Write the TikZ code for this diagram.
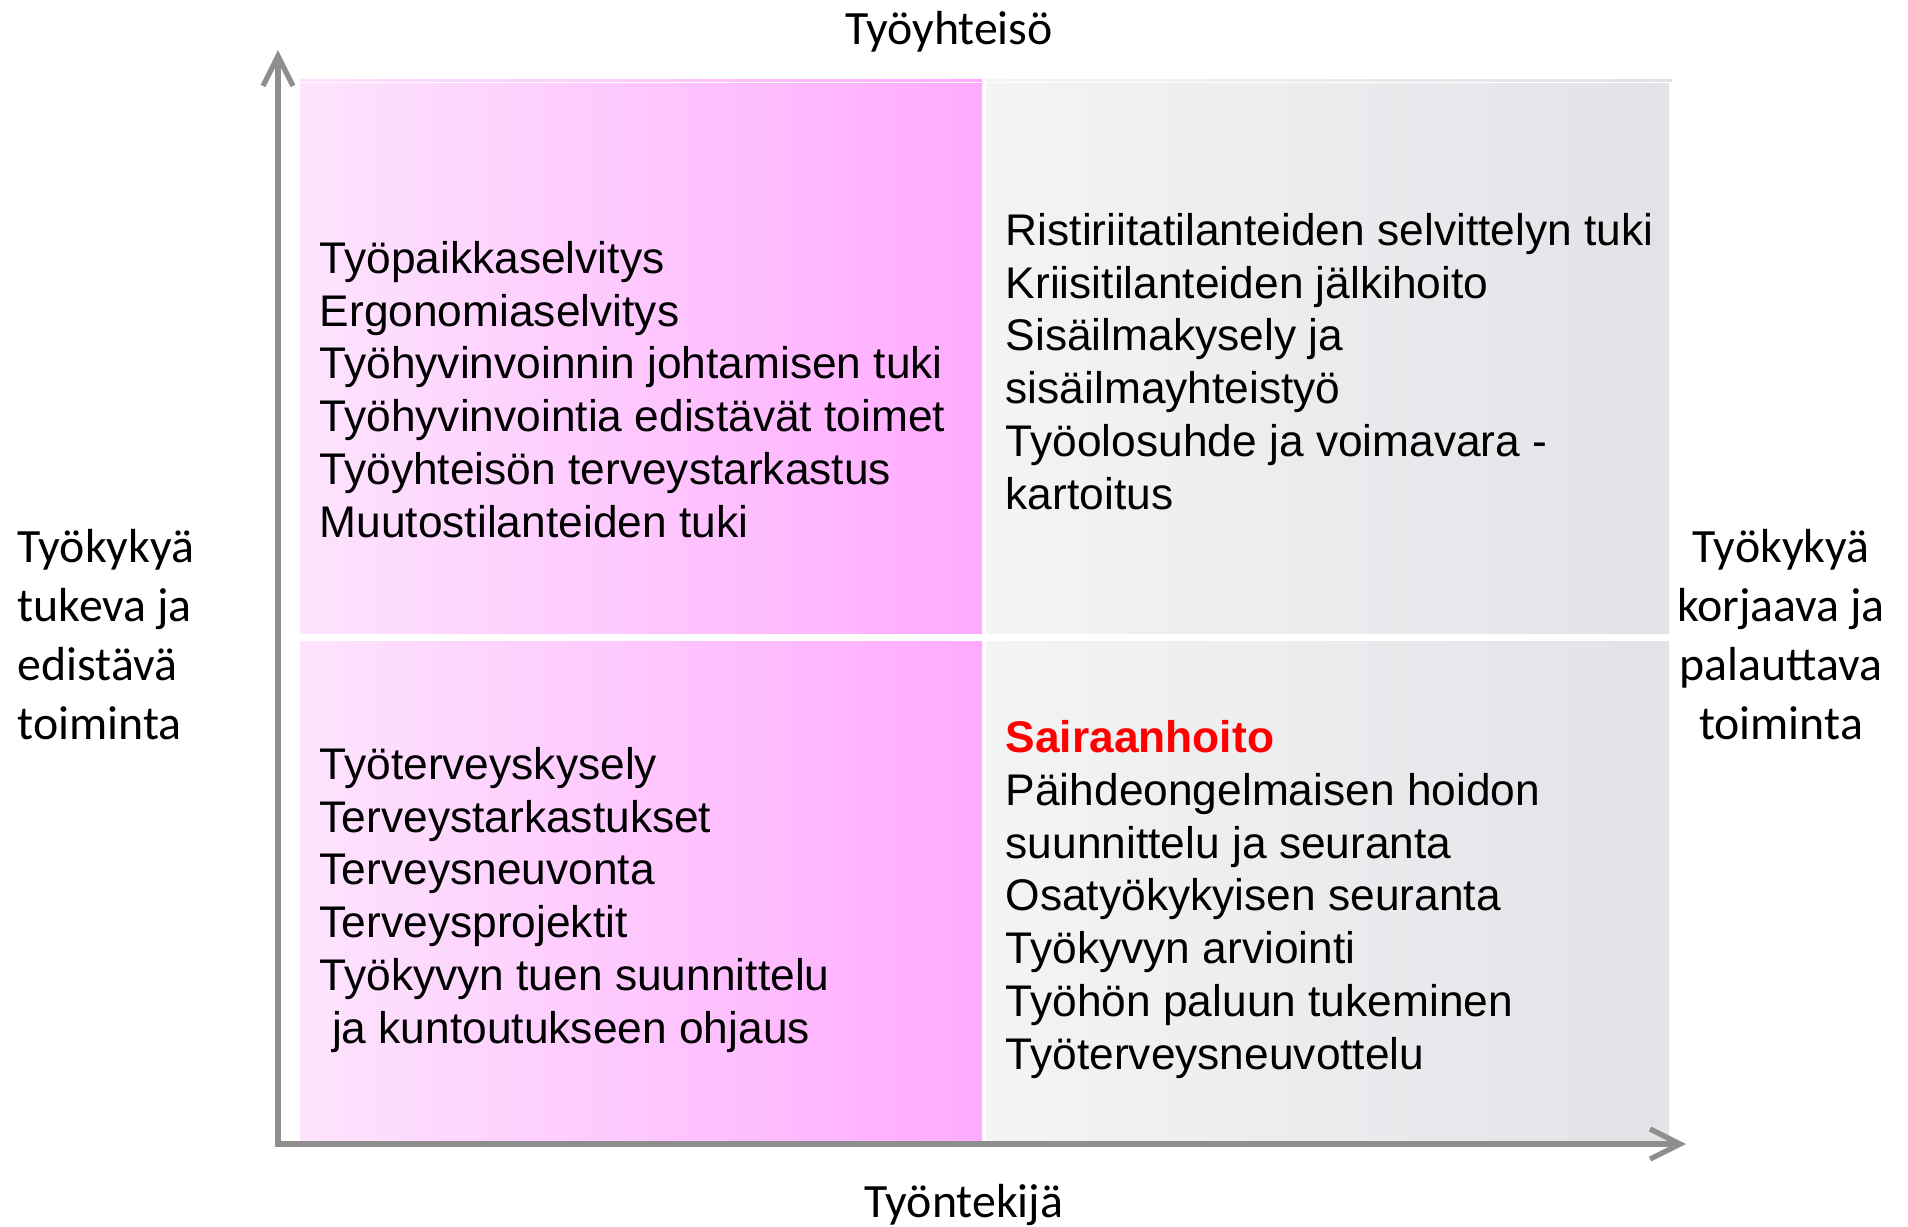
\documentclass[tikz,border=0pt]{standalone}
\usepackage{fontspec}
\setmainfont{Liberation Sans}
\newfontfamily\axisfont{Carlito}
\usetikzlibrary{positioning,arrows.meta}
\definecolor{pinklight}{HTML}{FDE4FD}
\definecolor{pinkdark}{HTML}{FFAAFF}
\definecolor{greylight}{HTML}{F3F4F4}
\definecolor{greydark}{HTML}{E2E3E7}
\definecolor{axisgrey}{HTML}{8E8E8E}
\definecolor{alertred}{HTML}{FF0000}
\tikzset{%
axis/.style={draw=axisgrey,line width=1.5pt,line join=miter,{Straight Barb[length=3mm,width=3mm]}-{Straight Barb[length=3mm,width=3mm]}},
pinkfield/.style={left color=pinklight,right color=pinkdark},
greyfield/.style={left color=greylight,right color=greydark},
itemlist/.style={align=left,anchor=base west,inner sep=0,font=\fontsize{12.6}{15}\selectfont},
axislabel/.style={inner sep=0,font=\axisfont\fontsize{13.6}{16.7}\selectfont}
}
\newcommand{\hilite}[1]{{\bfseries\color{alertred}#1}}

\begin{document}
\begin{tikzpicture}[x=0.01cm,y=-0.01cm]
    \useasboundingbox (0,0) rectangle (1908,1226);

    % fields
    \shade[pinkfield] (300,79.5) rectangle (982,81);
    \shade[greyfield] (986,79.5) rectangle (1672,81);
    \shade[pinkfield] (300,83) rectangle (982,633);
    \shade[greyfield] (986,83) rectangle (1669,633);
    \shade[pinkfield] (300,641) rectangle (982,1141);
    \shade[greyfield] (986,641) rectangle (1669,1141);

    % axes
    \coordinate (o) at (278,1144);
    \coordinate (ytip) at (278,50);
    \coordinate (xtip) at (1686,1144);
    \draw[axis] (ytip) -- (o) -- (xtip);

    % labels (base = last line)
    \node[axislabel,anchor=base] (ylab) at (949,44) {Työyhteisö};
    \node[axislabel,anchor=base] (xlab) at (964,1217) {Työntekijä};
    \node[axislabel,align=left,anchor=base west] (leftlab) at (17,739)
        {Työkykyä\\tukeva ja\\edistävä\\toiminta};
    \node[axislabel,align=center,anchor=base] (rightlab) at (1781,739)
        {Työkykyä\\korjaava ja\\palauttava\\toiminta};

    \node[itemlist] (q1) at (319,537) {Työpaikkaselvitys\\Ergonomiaselvitys\\
        Työhyvinvoinnin johtamisen tuki\\Työhyvinvointia edistävät toimet\\
        Työyhteisön terveystarkastus\\Muutostilanteiden tuki};
    \node[itemlist] (q2) at (1005,509) {Ristiriitatilanteiden selvittelyn tuki\\
        Kriisitilanteiden jälkihoito\\Sisäilmakysely ja\\sisäilmayhteistyö\\
        Työolosuhde ja voimavara -\\kartoitus};
    \node[itemlist] (q3) at (319,1043) {Työterveyskysely\\Terveystarkastukset\\
        Terveysneuvonta\\Terveysprojektit\\Työkyvyn tuen suunnittelu\\
        ~ja kuntoutukseen ohjaus};
    \node[itemlist] (q4) at (1005,1069) {\hilite{Sairaanhoito}\\
        Päihdeongelmaisen hoidon\\suunnittelu ja seuranta\\
        Osatyökykyisen seuranta\\Työkyvyn arviointi\\
        Työhön paluun tukeminen\\Työterveysneuvottelu};
\end{tikzpicture}
\end{document}
